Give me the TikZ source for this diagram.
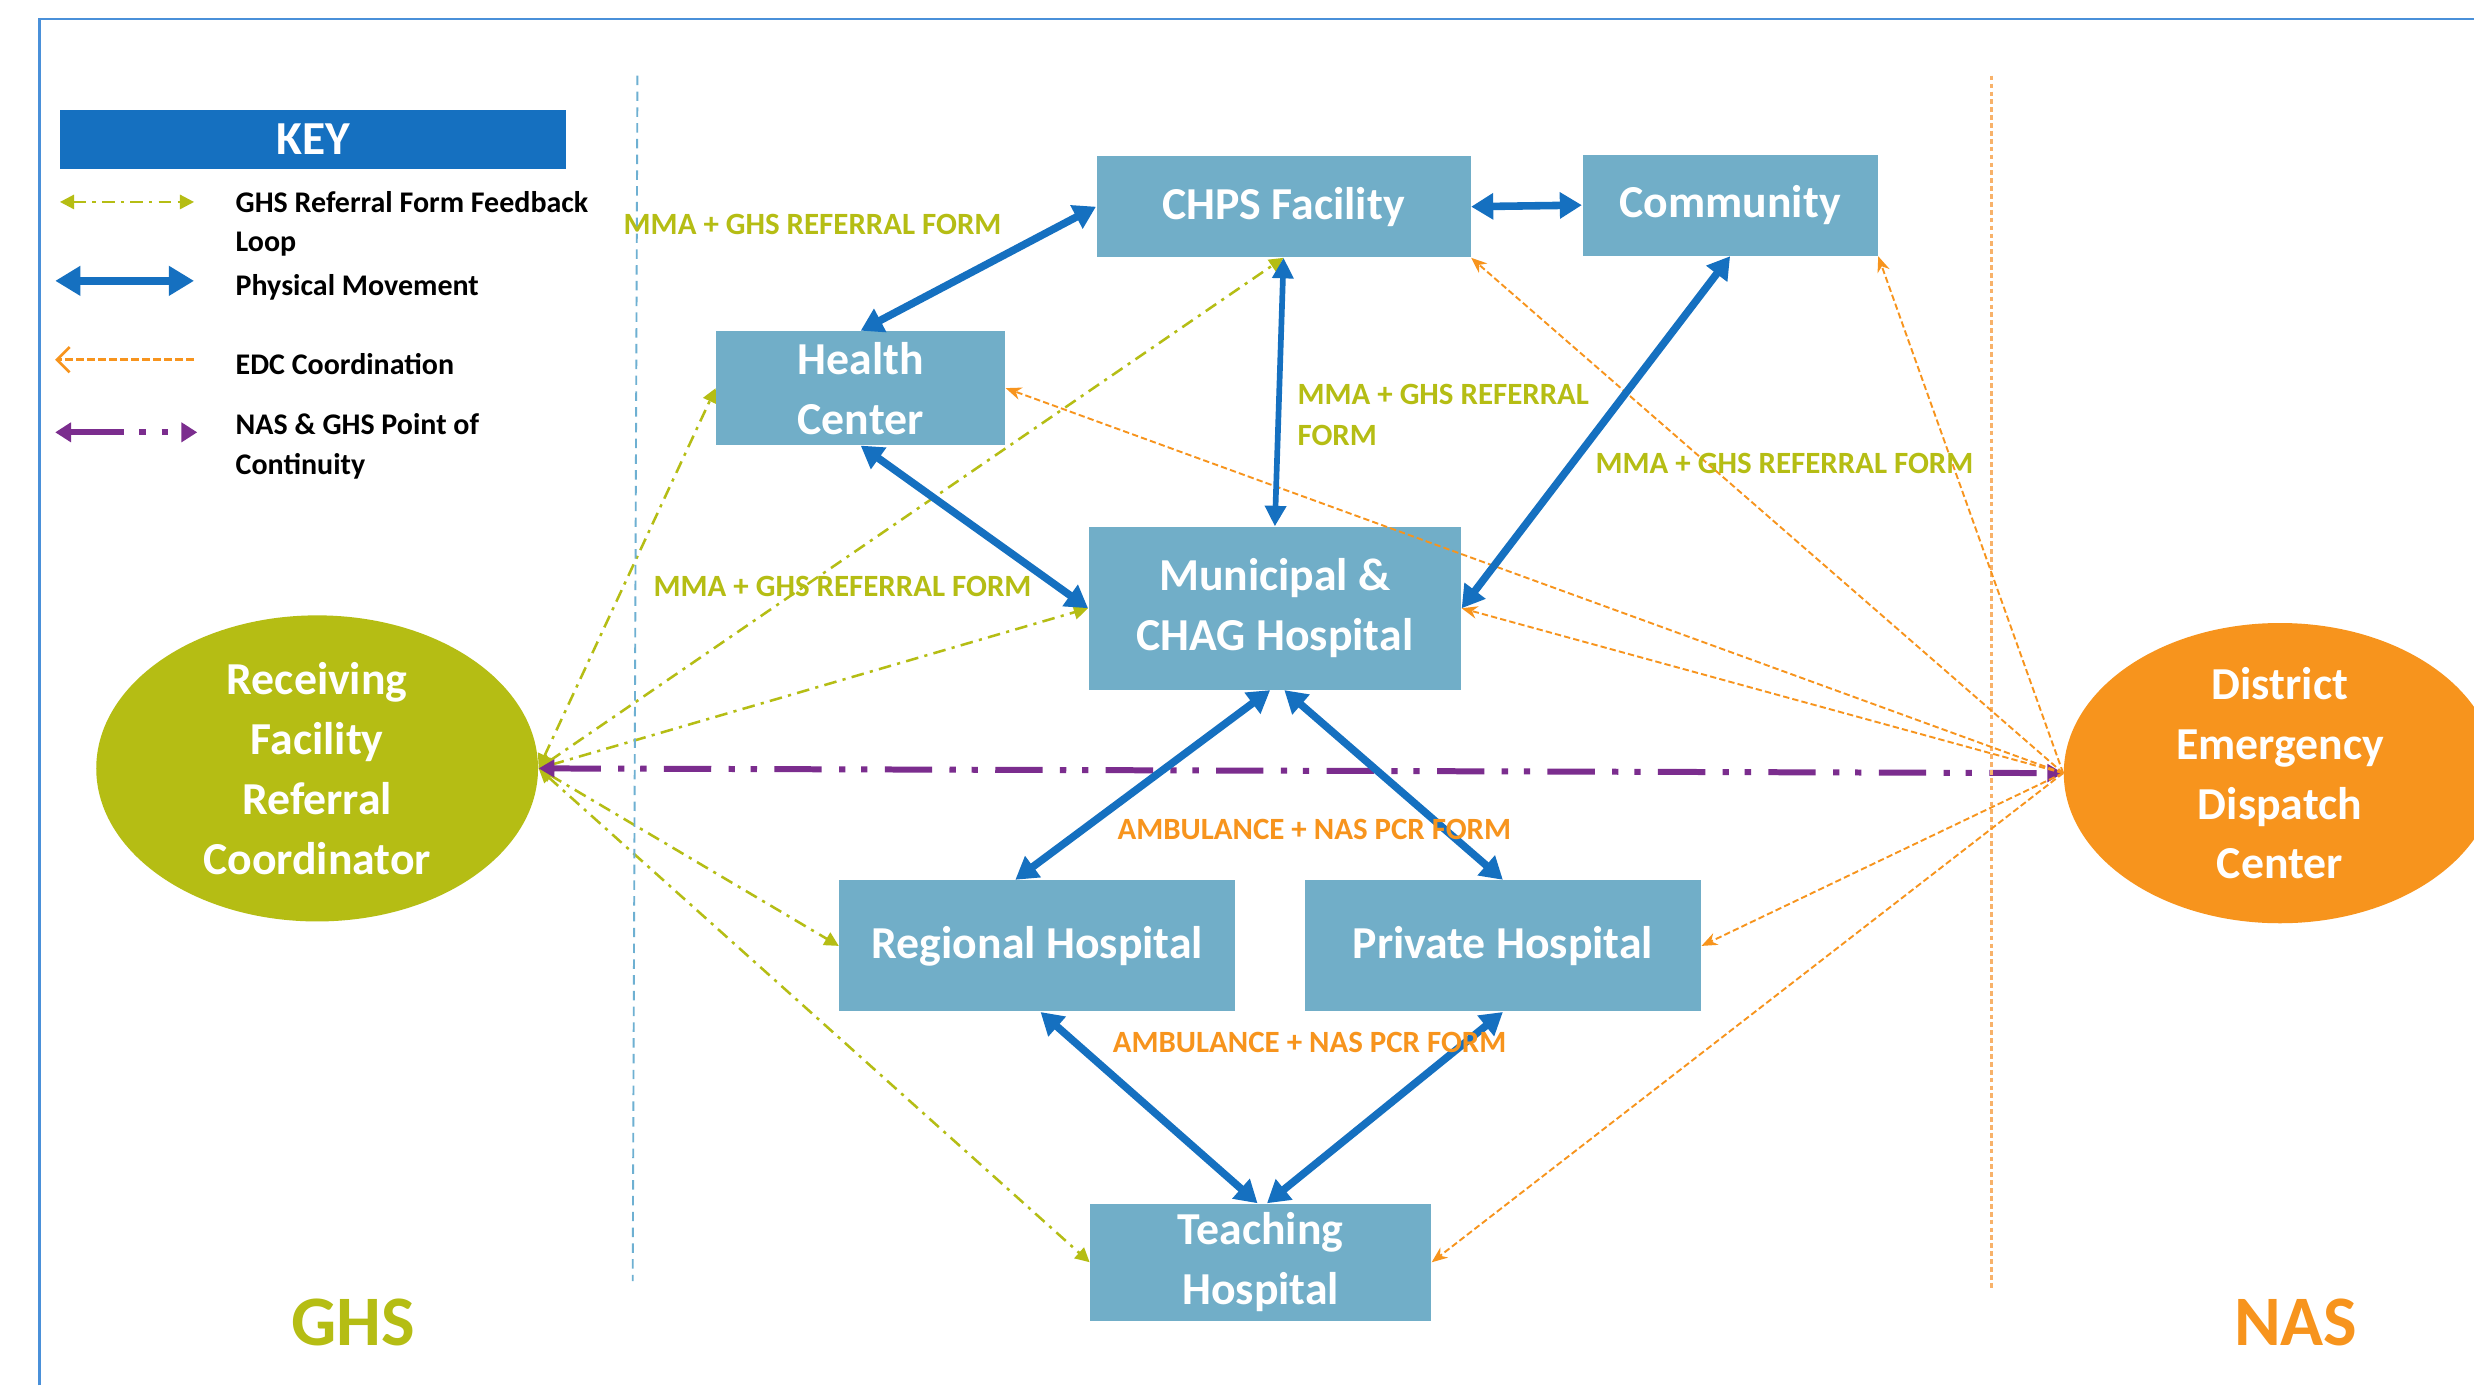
\documentclass[tikz,border=0pt]{standalone}
\usepackage{fontspec}
\setmainfont{Carlito}
\usetikzlibrary{arrows.meta,shapes.geometric}
\pgfdeclarelayer{paper}
\pgfdeclarelayer{background}
\pgfsetlayers{paper,background,main}
\definecolor{boxblue}{RGB}{113,174,200}
\definecolor{arrowblue}{RGB}{21,112,192}
\definecolor{keyblue}{RGB}{21,112,192}
\definecolor{ghsgreen}{RGB}{181,189,20}
\definecolor{edcorange}{RGB}{247,148,29}
\definecolor{nasorange}{RGB}{248,178,106}
\definecolor{purp}{RGB}{123,45,142}
\definecolor{framecol}{RGB}{74,144,217}
\definecolor{sepblue}{RGB}{110,176,210}
\begin{document}
\begin{tikzpicture}[x=0.5pt,y=-0.5pt,
  box/.style={rectangle, fill=boxblue, text=white, font=\fontsize{14.5}{19}\selectfont\bfseries, align=center, inner sep=0pt},
  oval/.style={ellipse, text=white, font=\fontsize{14.5}{19}\selectfont\bfseries, align=center, inner sep=0pt},
  phys/.style={arrowblue, line width=2.4pt, {Triangle[length=7pt,width=8pt]}-{Triangle[length=7pt,width=8pt]}},
  physthin/.style={arrowblue, line width=1.8pt, {Triangle[length=6.5pt,width=6.5pt]}-{Triangle[length=6.5pt,width=6.5pt]}},
  fb/.style={ghsgreen, line width=0.8pt, dash pattern=on 4pt off 2pt on 1pt off 2pt, {Triangle[length=4.5pt,width=4.5pt]}-{Triangle[length=4.5pt,width=4.5pt]}},
  edc/.style={edcorange, line width=0.6pt, dash pattern=on 2pt off 1pt, -{Stealth[length=5pt,width=4pt]}},
  cont/.style={purp, line width=1.9pt, dash pattern=on 15pt off 5.5pt on 2pt off 5pt on 2pt off 5.5pt, {Triangle[length=5pt,width=5.5pt]}-{Triangle[length=5pt,width=5.5pt]}},
  lbl/.style={font=\fontsize{9.8}{13}\selectfont\bfseries, inner sep=0pt},
  keytxt/.style={font=\fontsize{9.5}{12.5}\selectfont\bfseries, align=left, anchor=west, inner sep=0pt}
]
\useasboundingbox (0,0) rectangle (1568,878);
\begin{pgfonlayer}{paper}
\fill[white] (0,0) rectangle (1568,878);
\end{pgfonlayer}
% frame
\draw[framecol, line width=0.8pt] (25,878) -- (25,12) -- (1568,12);
% separators
\draw[sepblue, line width=0.6pt, dash pattern=on 3pt off 2pt] (404,48) -- (401,812);
\draw[nasorange, line width=1pt, dash pattern=on 1.5pt off 1pt] (1262,48) -- (1262,818);

% key
\node[fill=keyblue, minimum width=160.5pt, minimum height=18.5pt, inner sep=0pt, text=white, font=\fontsize{15}{18}\selectfont\bfseries] (key) at (198.5,88.5) {KEY};
\coordinate (k1a) at (38,128); \coordinate (k1b) at (123,128);
\coordinate (k2a) at (35,178); \coordinate (k2b) at (123,178);
\coordinate (k3a) at (123,228); \coordinate (k3b) at (35,228);
\coordinate (k4a) at (35,274); \coordinate (k4b) at (125,274);
\draw[fb] (k1a) -- (k1b);
\draw[arrowblue, line width=2.4pt, {Triangle[length=8pt,width=9pt]}-{Triangle[length=8pt,width=9pt]}] (k2a) -- (k2b);
\draw[edcorange, line width=0.8pt, dash pattern=on 2.5pt off 1pt, -{Straight Barb[length=4pt,width=8pt]}] (k3a) -- (k3b);
\draw[purp, line width=1.9pt, dash pattern=on 17pt off 5pt on 2pt off 5pt on 2pt off 15pt, {Triangle[length=5pt,width=6pt]}-{Triangle[length=5pt,width=6pt]}] (k4a) -- (k4b);
\node[keytxt] (kt1) at (149,142) {GHS Referral Form Feedback\\Loop};
\node[keytxt] (kt2) at (149,182) {Physical Movement};
\node[keytxt] (kt3) at (149,231) {EDC Coordination};
\node[keytxt] (kt4) at (149,283) {NAS \& GHS Point of\\Continuity};

% nodes
\node[box, minimum width=118.5pt, minimum height=32pt] (chps) at (813.5,131) {CHPS Facility};
\node[box, minimum width=93.5pt, minimum height=32pt] (comm) at (1096.5,130) {Community};
\node[box, minimum width=91.5pt, minimum height=36pt] (hc) at (545.5,246) {Health\\Center};
\node[box, minimum width=118pt, minimum height=51.5pt] (mun) at (808,385.5) {Municipal \&\\CHAG Hospital};
\node[box, minimum width=125.5pt, minimum height=41.5pt] (reg) at (657.5,599.5) {Regional Hospital};
\node[box, minimum width=125.5pt, minimum height=41.5pt] (priv) at (952.5,599.5) {Private Hospital};
\node[box, minimum width=108pt, minimum height=37pt] (teach) at (799,800) {Teaching\\Hospital};
\node[oval, fill=ghsgreen, minimum width=140pt, minimum height=97pt] (rc) at (201,487) {Receiving\\Facility\\Referral\\Coordinator};
\node[oval, fill=edcorange, minimum width=137pt, minimum height=85pt] (dc) at (1445,490) {District\\Emergency\\Dispatch\\Center};

\node[font=\fontsize{22.5}{26}\selectfont\bfseries, text=ghsgreen, inner sep=0pt] (ghs) at (224,838) {GHS};
\node[font=\fontsize{22.5}{26}\selectfont\bfseries, text=edcorange, inner sep=0pt] (nas) at (1455,838) {NAS};

\begin{pgfonlayer}{background}
% feedback loop (green)
\draw[fb] (rc.east) -- (hc.west);
\draw[fb] (rc.east) -- (chps.south);
\draw[fb] (rc.east) -- (mun.west);
\draw[fb] (rc.east) -- (reg.west);
\draw[fb] (rc.east) -- (teach.west);
% continuity
\draw[cont] (rc.east) -- (dc.west);
\end{pgfonlayer}
% EDC coordination (orange)
\draw[edc] (dc.west) -- (chps.south east);
\draw[edc] (dc.west) -- (comm.south east);
\draw[edc] (dc.west) -- (hc.east);
\draw[edc] (dc.west) -- (mun.east);
\draw[edc] (dc.west) -- (priv.east);
\draw[edc] (dc.west) -- (teach.east);

% physical movement
\draw[phys] (hc.north) -- (chps.west);
\draw[phys] (chps.east) -- (comm.west);
\draw[physthin] (chps.south) -- (mun.north);
\draw[phys] (hc.south) -- (mun.west);
\draw[phys] (comm.south) -- (mun.east);
\draw[phys] ([xshift=-1.5pt]mun.south) -- ([xshift=-7pt]reg.north);
\draw[phys] ([xshift=3pt]mun.south) -- (priv.north);
\draw[phys] ([xshift=1pt]reg.south) -- ([xshift=-1pt]teach.north);
\draw[phys] (priv.south) -- ([xshift=2pt]teach.north);

% labels
\node[lbl, text=ghsgreen] (l1) at (515,142) {MMA + GHS REFERRAL FORM};
\node[lbl, text=ghsgreen, align=left, anchor=west] (l2) at (822,263) {MMA + GHS REFERRAL\\FORM};
\node[lbl, text=ghsgreen] (l3) at (1131,294) {MMA + GHS REFERRAL FORM};
\node[lbl, text=ghsgreen] (l4) at (534,372) {MMA + GHS REFERRAL FORM};
\node[lbl, text=edcorange] (a1) at (833,526) {AMBULANCE + NAS PCR FORM};
\node[lbl, text=edcorange] (a2) at (830,661) {AMBULANCE + NAS PCR FORM};
\end{tikzpicture}
\end{document}
